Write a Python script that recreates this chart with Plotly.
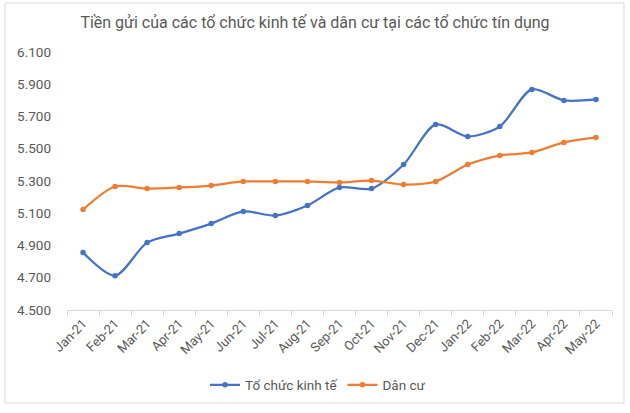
import plotly.graph_objects as go

months = ["Jan-21", "Feb-21", "Mar-21", "Apr-21", "May-21", "Jun-21", "Jul-21", "Aug-21",
          "Sep-21", "Oct-21", "Nov-21", "Dec-21", "Jan-22", "Feb-22", "Mar-22", "Apr-22", "May-22"]
to_chuc_kinh_te = [4856, 4713, 4918, 4974, 5036, 5111, 5086, 5148,
                   5260, 5253, 5402, 5651, 5576, 5638, 5868, 5800, 5806]
dan_cu = [5123, 5266, 5253, 5260, 5272, 5297, 5297, 5297,
          5291, 5303, 5278, 5297, 5402, 5458, 5477, 5539, 5570]
y_ticks = [4500, 4700, 4900, 5100, 5300, 5500, 5700, 5900, 6100]

title_text = "Tiền gửi của các tổ chức kinh tế và dân cư tại các tổ chức tín dụng"
FONT = "Liberation Sans Narrow, Roboto, Arial"
GRAY = "#595959"

W, H = 630, 413
L, R, T, B = 67, 18, 52, 103
pw, ph = W - L - R, H - T - B

fig = go.Figure()
fig.add_trace(go.Scatter(x=months, y=to_chuc_kinh_te, name="Tổ chức kinh tế",
                         mode="lines+markers", line=dict(color="#4472C4", width=2.25, shape="spline", smoothing=0.8),
                         marker=dict(size=5.5, color="#4472C4")))
fig.add_trace(go.Scatter(x=months, y=dan_cu, name="Dân cư",
                         mode="lines+markers", line=dict(color="#ED7D31", width=2.25, shape="spline", smoothing=0.8),
                         marker=dict(size=5.5, color="#ED7D31")))

def px_x(x):
    return (x - L) / pw

def px_y(y):
    return (H - B - y) / ph

fig.add_shape(type="rect", xref="paper", yref="paper",
              x0=px_x(5), x1=px_x(624), y0=px_y(403), y1=px_y(3),
              line=dict(color="#D9D9D9", width=1), fillcolor="rgba(0,0,0,0)", layer="below")

fig.update_layout(
    width=W, height=H,
    margin=dict(l=L, r=R, t=T, b=B, autoexpand=False),
    paper_bgcolor="white", plot_bgcolor="white",
    separators=",.",
    font=dict(family=FONT, color=GRAY, size=12),
    title=dict(text=title_text, x=0.5, xref="container", xanchor="center",
               y=1 - 22 / H, yref="container", yanchor="middle",
               font=dict(family=FONT, size=16, color=GRAY)),
    xaxis=dict(type="category", range=[-0.5, len(months) - 0.5],
               showline=True, linecolor="#D9D9D9", linewidth=1,
               ticks="outside", ticklen=5, tickcolor="#D9D9D9", tickson="boundaries",
               tickangle=-45, tickfont=dict(family=FONT, size=13, color=GRAY),
               showgrid=False, zeroline=False),
    yaxis=dict(range=[4500, 6100], tickvals=y_ticks, tickformat=",d",
               showline=False, showgrid=False, zeroline=False,
               ticklabelstandoff=15,
               tickfont=dict(family=FONT, size=13.5, color=GRAY)),
    legend=dict(orientation="h", xref="container", yref="container",
                x=318 / W, xanchor="center", y=1 - 385 / H, yanchor="middle",
                font=dict(family=FONT, size=13.5, color=GRAY),
                itemwidth=30, tracegroupgap=0),
    showlegend=True,
)

fig.write_html("out.html")
